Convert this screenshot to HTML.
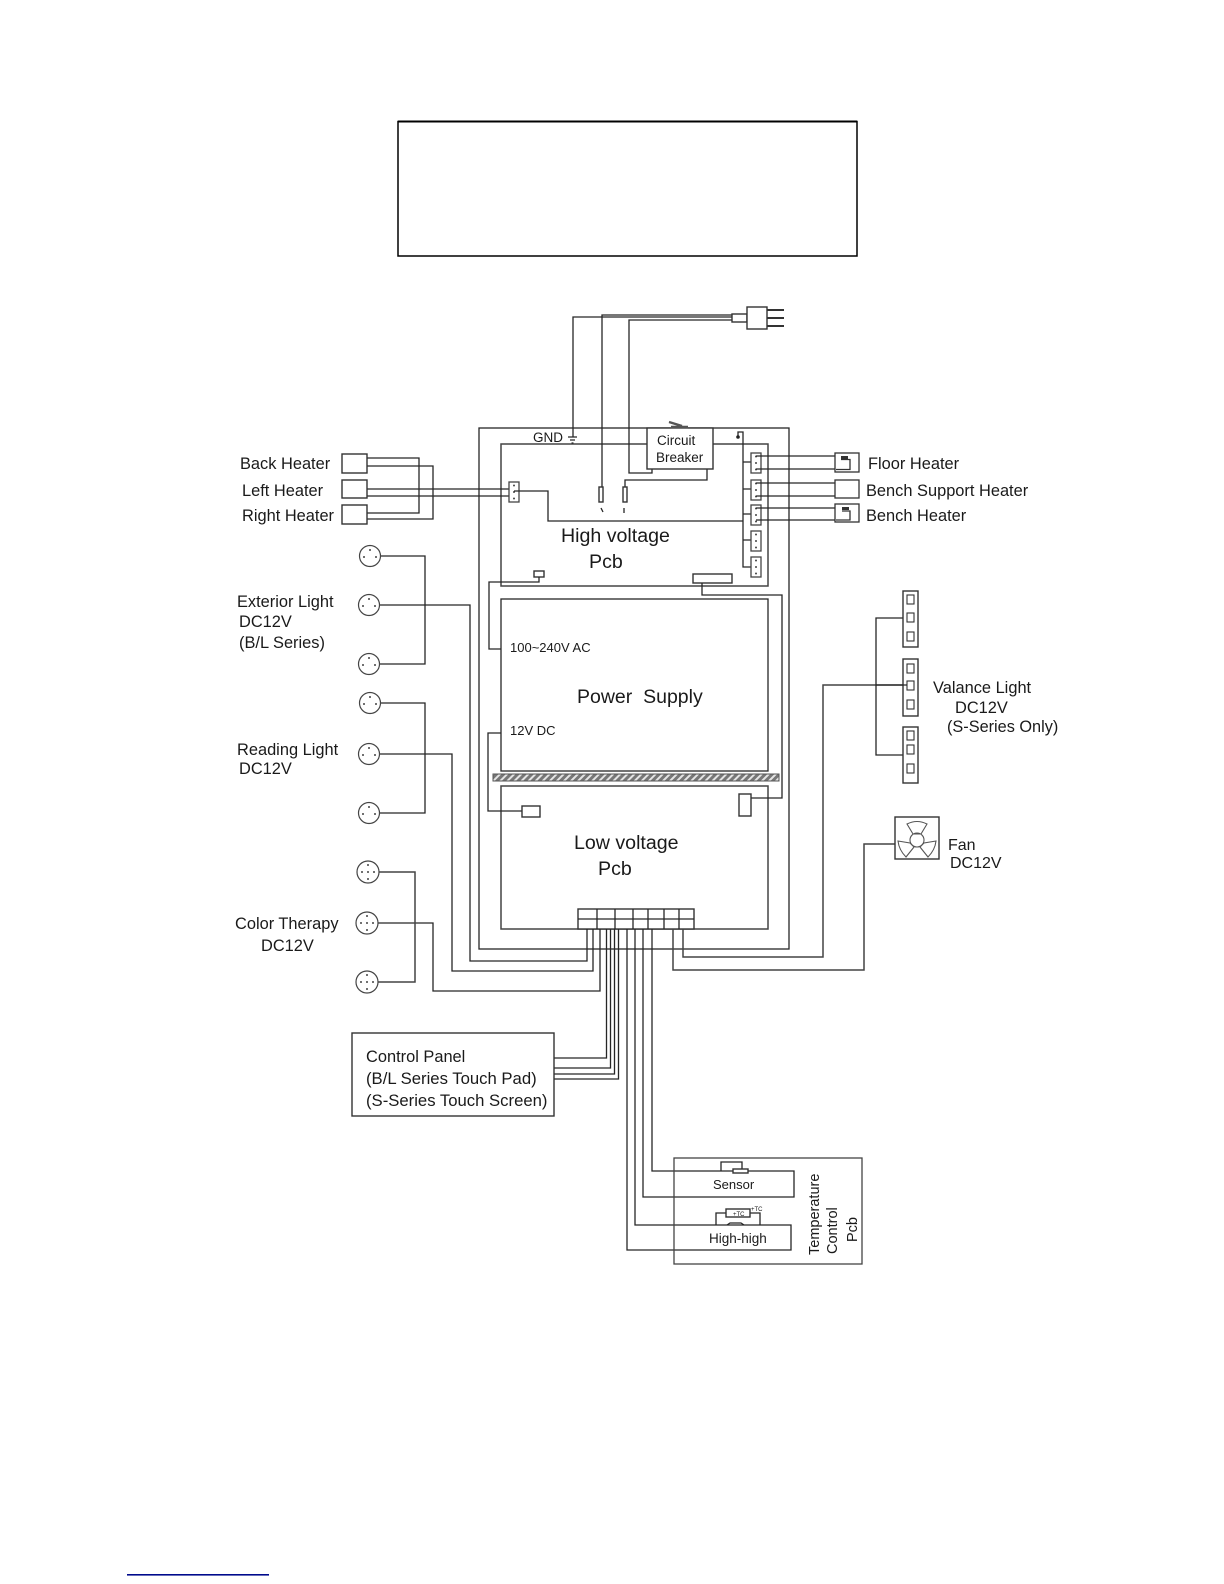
<!DOCTYPE html>
<html><head><meta charset="utf-8"><style>
html,body{margin:0;padding:0;background:#fff;width:1224px;height:1584px;overflow:hidden}
svg{display:block}
text{font-family:"Liberation Sans",sans-serif;fill:#1a1a1a}
.w{fill:none;stroke:#262626;stroke-width:1.3}
.g{fill:none;stroke:#444;stroke-width:1.5}
.b{fill:#fff;stroke:#333;stroke-width:1.4}
.d{fill:#444;stroke:none}
</style></head><body>
<svg width="1224" height="1584" viewBox="0 0 1224 1584" xmlns="http://www.w3.org/2000/svg">
<defs>
<pattern id="h" width="5" height="5" patternUnits="userSpaceOnUse" patternTransform="rotate(45)"><rect width="5" height="5" fill="#777"/><rect width="2" height="5" fill="#e4e4e4"/></pattern>
<g id="c3"><circle r="10.5" fill="#fff" stroke="#444" stroke-width="1.2"/><circle cx="0" cy="-6" r="1" class="d"/><circle cx="-6" cy="1" r="1" class="d"/><circle cx="6" cy="1" r="1" class="d"/></g>
<g id="c5"><circle r="11" fill="#fff" stroke="#444" stroke-width="1.2"/><circle cx="0" cy="-7" r="1" class="d"/><circle cx="0" cy="7" r="1" class="d"/><circle cx="-6" cy="0" r="1" class="d"/><circle cx="0" cy="0" r="1" class="d"/><circle cx="6" cy="0" r="1" class="d"/></g>
<g id="pin"><rect x="0" y="0" width="10" height="20" fill="#fff" stroke="#444" stroke-width="1.3"/><circle cx="5" cy="3.5" r="1" class="d"/><circle cx="5" cy="10" r="1" class="d"/><circle cx="5" cy="16.5" r="1" class="d"/></g>
</defs>

<rect x="398" y="121.5" width="459" height="134.5" fill="none" stroke="#000" stroke-width="1.5"/>
<line x1="398" y1="121.5" x2="857" y2="121.5" stroke="#000" stroke-width="2"/>

<!-- main frames -->
<rect x="479" y="428" width="310" height="521" class="w"/>
<rect x="501" y="444" width="267" height="142" class="g"/>
<rect x="501" y="599" width="267" height="172" class="w"/>
<rect x="493" y="774" width="286" height="7" fill="url(#h)" stroke="#555"/>
<rect x="501" y="786" width="267" height="143" class="g"/>

<!-- plug and mains -->
<path class="w" d="M732 315H602V487M732 317H573V437M732 320H629V473H652V469M625 487V480H707V469"/>
<rect x="732" y="314" width="15" height="8" class="b"/>
<rect x="747" y="307" width="20" height="22" class="b"/>
<path fill="none" stroke="#333" stroke-width="2" d="M767 310H784M767 318H784M767 326H784"/>
<path class="w" d="M568 437H577M570 440H575M571.5 443H573.5"/>
<rect x="599" y="487" width="4" height="15" class="b"/>
<rect x="623" y="487" width="4" height="15" class="b"/>
<path class="w" stroke="#777" d="M601 508L603 512M624 508V513"/>

<!-- breaker -->
<rect x="647" y="428" width="66" height="41" class="b"/>
<path d="M669 422L682 426M671 427H688" stroke="#555" stroke-width="2.4" fill="none"/>
<text x="657" y="445" font-size="13.5">Circuit</text>
<text x="656" y="462" font-size="13.5">Breaker</text>
<text x="533" y="442" font-size="13.5">GND</text>

<!-- heaters left -->
<path class="w" d="M367 458H419V513H367M367 466H433V519H367M367 489H509M367 496H509"/>
<rect x="342" y="454" width="25" height="19" class="b"/>
<rect x="342" y="480" width="25" height="18" class="b"/>
<rect x="342" y="505" width="25" height="19" class="b"/>
<circle cx="419" cy="489" r="1.3" class="d"/><circle cx="419" cy="496" r="1.3" class="d"/><circle cx="433" cy="496" r="1.3" class="d"/>
<text x="240" y="469" font-size="16.4">Back Heater</text>
<text x="242" y="496" font-size="16.4">Left Heater</text>
<text x="242" y="521" font-size="16.4">Right Heater</text>
<use href="#pin" x="509" y="482"/>
<path class="w" d="M514 491H548V521H743M738 437V432H743V567H751M743 462H751M743 489H751M743 514H751M743 540H751"/>
<circle cx="738" cy="437" r="1.8" fill="#222"/>
<use href="#pin" x="751" y="453"/><use href="#pin" x="751" y="480"/><use href="#pin" x="751" y="505"/><use href="#pin" x="751" y="531"/><use href="#pin" x="751" y="557"/>

<!-- heaters right -->
<path class="w" d="M756 456H835M756 469H835M756 483H835M756 496H835M756 508H835M756 520H835"/>
<rect x="835" y="453" width="24" height="19" fill="none" stroke="#333" stroke-width="1.3"/>
<rect x="835" y="480" width="24" height="18" fill="none" stroke="#333" stroke-width="1.3"/>
<rect x="835" y="504" width="24" height="18" fill="none" stroke="#333" stroke-width="1.3"/>
<path fill="none" stroke="#333" stroke-width="1.3" d="M841 459.500H850V469.500H836"/>
<rect x="841" y="456" width="7" height="3" fill="#333"/>
<path fill="none" stroke="#333" stroke-width="1.3" d="M842 511H850V520H836"/>
<rect x="842" y="507" width="7" height="3" fill="#333"/>
<text x="868" y="469" font-size="16.4">Floor Heater</text>
<text x="866" y="496" font-size="16.4">Bench Support Heater</text>
<text x="866" y="521" font-size="16.4">Bench Heater</text>

<text x="561" y="542" font-size="19.6">High voltage</text>
<text x="589" y="568" font-size="19.6">Pcb</text>

<!-- hv to ps -->
<rect x="534" y="571" width="10" height="6" class="b"/>
<path class="w" d="M539 577V582H489V649H501"/>
<rect x="693" y="574" width="39" height="9" class="b"/>
<path class="w" d="M702 583V595H782V798H751"/>
<text x="510" y="652" font-size="13">100~240V AC</text>
<text x="510" y="735" font-size="13">12V DC</text>
<text x="577" y="703" font-size="19.5" xml:space="preserve">Power  Supply</text>
<path class="w" d="M501 733H488V811H522"/>
<rect x="522" y="806" width="18" height="11" class="b"/>
<rect x="739" y="794" width="12" height="22" class="b"/>
<text x="574" y="849" font-size="19.6">Low voltage</text>
<text x="598" y="875" font-size="19.6">Pcb</text>

<!-- LV terminal -->
<rect x="578" y="909" width="116" height="20" class="b"/>
<path class="w" d="M578 919H694M597 909V929M615 909V929M633 909V929M648 909V929M664 909V929M679 909V929"/>

<!-- outgoing -->
<path class="w" d="M587 929V961H470V605H380M593 929V971H452V754H380M600 929V991H433V923H378"/>
<path class="w" d="M606.5 929V1058H554M610.5 929V1068H554M614.5 929V1074H554M618.5 929V1079H554"/>
<path class="w" d="M627 929V1250H791V1225H635V929M643 929V1197H794V1171H652V929"/>
<path class="g" d="M683 929V957H823V685H907M673 929V970H864V844H895"/>

<!-- exterior -->
<path class="w" d="M380 556H425V664H380"/>
<use href="#c3" x="370" y="556"/><use href="#c3" x="369" y="605"/><use href="#c3" x="369" y="664"/>
<text x="237" y="607" font-size="16.4">Exterior Light</text>
<text x="239" y="627" font-size="16.4">DC12V</text>
<text x="239" y="648" font-size="16.4">(B/L Series)</text>

<!-- reading -->
<path class="w" d="M380 703H425V813H380"/>
<use href="#c3" x="370" y="703"/><use href="#c3" x="369" y="754"/><use href="#c3" x="369" y="813"/>
<text x="237" y="755" font-size="16.4">Reading Light</text>
<text x="239" y="774" font-size="16.4">DC12V</text>

<!-- color -->
<path class="g" d="M378 872H415V982H378"/>
<use href="#c5" x="368" y="872"/><use href="#c5" x="367" y="923"/><use href="#c5" x="367" y="982"/>
<text x="235" y="929" font-size="16.4">Color Therapy</text>
<text x="261" y="951" font-size="16.4">DC12V</text>

<!-- control panel -->
<rect x="352" y="1033" width="202" height="83" class="b"/>
<text x="366" y="1062" font-size="16.4">Control Panel</text>
<text x="366" y="1084" font-size="16.7">(B/L Series Touch Pad)</text>
<text x="366" y="1106" font-size="16.7">(S-Series Touch Screen)</text>

<!-- valance -->
<path class="w" d="M903 618H876V755H903"/>
<rect x="903" y="591" width="15" height="56" class="b"/>
<rect x="903" y="659" width="15" height="57" class="b"/>
<rect x="903" y="727" width="15" height="56" class="b"/>
<g fill="#fff" stroke="#333" stroke-width="1.1">
<rect x="907" y="595" width="7" height="9"/><rect x="907" y="613" width="7" height="9"/><rect x="907" y="632" width="7" height="9"/>
<rect x="907" y="664" width="7" height="9"/><rect x="907" y="681" width="7" height="9"/><rect x="907" y="700" width="7" height="9"/>
<rect x="907" y="731" width="7" height="9"/><rect x="907" y="745" width="7" height="9"/><rect x="907" y="764" width="7" height="9"/>
</g>
<path class="w" d="M876 685H907"/>
<text x="933" y="693" font-size="16.4">Valance Light</text>
<text x="955" y="713" font-size="16.4">DC12V</text>
<text x="947" y="732" font-size="16.3">(S-Series Only)</text>

<!-- fan -->
<rect x="895" y="817" width="44" height="42" class="b"/>
<g fill="none" stroke="#555" stroke-width="1.1">
<circle cx="917" cy="840" r="7"/>
<path d="M907 824Q917 819 927 824L921 834H913Z"/>
<path d="M898 841L910 843L914 847L906 857Q899 850 898 841Z"/>
<path d="M936 841L924 843L920 847L928 857Q935 850 936 841Z"/>
</g>
<text x="948" y="850" font-size="16">Fan</text>
<text x="950" y="868" font-size="16">DC12V</text>

<!-- temp -->
<rect x="674" y="1158" width="188" height="106" fill="none" stroke="#444" stroke-width="1.3"/>
<path class="w" d="M721 1171V1162H742V1171"/>
<rect x="733" y="1169" width="15" height="4" class="b"/>
<text x="713" y="1189" font-size="13">Sensor</text>
<path class="w" d="M726 1213H716V1225M750 1213H760V1225M727 1225L730 1223H741L744 1225"/>
<rect x="726" y="1209" width="24" height="8" class="b"/>
<text x="733" y="1216" font-size="6">+TC</text>
<text x="751" y="1211" font-size="6">+TC</text>
<text x="709" y="1243" font-size="13.5">High-high</text>
<text transform="translate(819 1255) rotate(-90)" font-size="14.5">Temperature</text>
<text transform="translate(837 1254) rotate(-90)" font-size="14.5">Control</text>
<text transform="translate(857 1242) rotate(-90)" font-size="14.5">Pcb</text>

<rect x="127" y="1574" width="142" height="1.6" fill="#000a8c"/>
</svg>
</body></html>
